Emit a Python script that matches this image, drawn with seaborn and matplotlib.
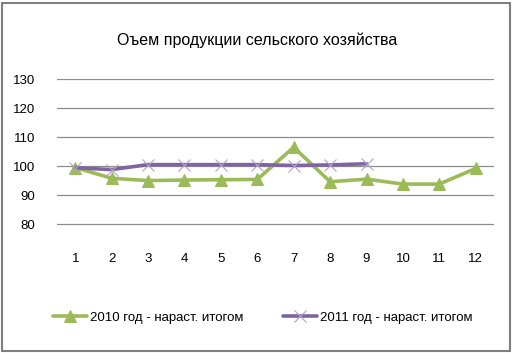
import numpy as np
import pandas as pd
import matplotlib
matplotlib.use('Agg')
import matplotlib.pyplot as plt
import seaborn as sns
from matplotlib.patches import Rectangle

sns.set_style('white')
plt.rcParams['font.family'] = ['Liberation Sans', 'DejaVu Sans']
plt.rcParams['text.color'] = 'black'
plt.rcParams['xtick.color'] = 'black'
plt.rcParams['ytick.color'] = 'black'

# данные
months = [1, 2, 3, 4, 5, 6, 7, 8, 9, 10, 11, 12]
y2010 = [99.5, 95.8, 95.0, 95.2, 95.3, 95.4, 106.5, 94.6, 95.5, 93.8, 93.8, 99.2]
months_2011 = [1, 2, 3, 4, 5, 6, 7, 8, 9]
y2011 = [99.4, 98.8, 100.5, 100.5, 100.5, 100.5, 100.2, 100.4, 100.8]
label_2010 = '2010 год - нараст. итогом'
label_2011 = '2011 год - нараст. итогом'
title = 'Оъем продукции сельского хозяйства'
yticks = [80, 90, 100, 110, 120, 130]

df10 = pd.DataFrame({'month': months, 'value': y2010})
df11 = pd.DataFrame({'month': months_2011, 'value': y2011})

fig = plt.figure(figsize=(5.14, 3.53), dpi=100)
ax = fig.add_axes([0.111, 0.283, 0.85, 0.493])

sns.lineplot(data=df10, x='month', y='value', ax=ax, color='#9BBB59', linewidth=2.6,
             marker='^', markersize=9, markeredgecolor='#9BBB59', label=label_2010)
sns.lineplot(data=df11, x='month', y='value', ax=ax, color='#8064A2', linewidth=2.6,
             marker='x', markersize=9, markeredgecolor='#B3A2C7', markeredgewidth=0.8,
             label=label_2011)

ax.set_xlim(0.5, 12.5)
ax.set_ylim(70, 130)
ax.set_yticks(yticks)
ax.set_xticks(months)
ax.tick_params(axis='y', labelsize=9.5, length=0, pad=16)
ax.tick_params(axis='x', labelsize=9.5, length=0, pad=0)
ax.set_xlabel('')
ax.set_ylabel('')
for s in ax.spines.values():
    s.set_visible(False)
ax.grid(axis='y', color='#8C8C8C', linewidth=0.9)
ax.set_axisbelow(True)

fig.text(0.5, 0.885, title, ha='center', va='center', fontsize=11.5)

ax.legend(loc='center', bbox_to_anchor=(0.47, -0.37), ncol=2, frameon=False,
          fontsize=9.5, handlelength=2.6, columnspacing=3, handletextpad=0.2)

# рамка
fig.patches.append(Rectangle((0.004, 0.006), 0.988, 0.985, transform=fig.transFigure,
                             fill=False, edgecolor='#7F7F7F', linewidth=1.5))

fig.savefig('out.png', dpi=100)
